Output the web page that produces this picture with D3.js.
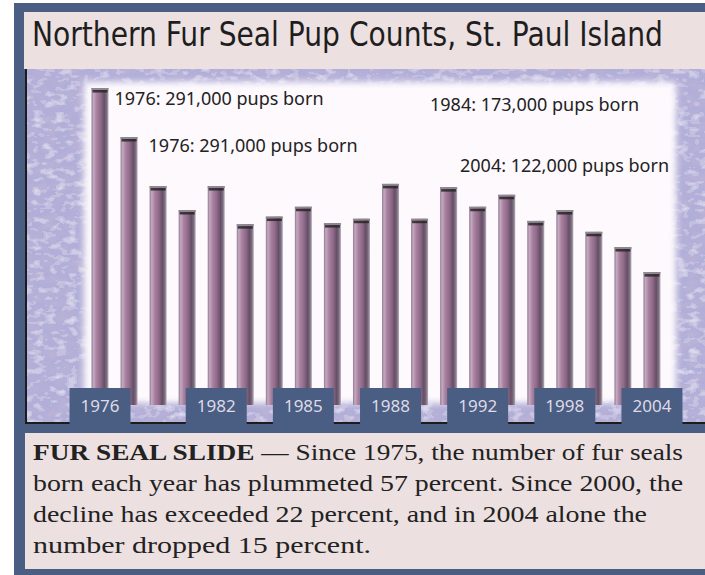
<!DOCTYPE html>
<html><head><meta charset="utf-8">
<script src="https://cdn.jsdelivr.net/npm/d3@7"></script>
<style>html,body{margin:0;padding:0;background:#fff;}svg{display:block;}</style>
</head><body>
<svg id="chart" width="705" height="575"></svg>
<script>
// ---- data ----
const categories = ["1976","1977","1979","1980","1982","1983","1984","1985","1986","1987","1988","1990","1991","1992","1994","1996","1998","2000","2002","2004"];
const pups = [291000,246000,201000,179000,201000,166000,173000,182000,167000,171000,203000,171000,200000,182000,193000,169000,179000,159000,145000,122000];
const tickLabels = ["1976","1982","1985","1988","1992","1998","2004"];
const titleText = "Northern Fur Seal Pup Counts, St. Paul Island";
const annotations = ["1976: 291,000 pups born","1976: 291,000 pups born","1984: 173,000 pups born","2004: 122,000 pups born"];
const captionBold = "FUR SEAL SLIDE";
const captionLines = [
  " \u2014 Since 1975, the number of fur seals",
  "born each year has plummeted 57 percent. Since 2000, the",
  "decline has exceeded 22 percent, and in 2004 alone the",
  "number dropped 15 percent."
];

const svg = d3.select("#chart");
const BLUE = "#4a5d82", PINK = "#ece0e0";
const defs = svg.append("defs");

// texture filters
const tf = defs.append("filter").attr("id","tex").attr("x",0).attr("y",0).attr("width",1).attr("height",1);
tf.append("feTurbulence").attr("type","fractalNoise").attr("baseFrequency","0.09 0.16").attr("numOctaves",2).attr("seed",4).attr("result","n");
tf.append("feColorMatrix").attr("in","n").attr("type","matrix")
  .attr("values","0 0 0 0 1  0 0 0 0 1  0 0 0 0 1  2.2 0 0 0 -0.95").attr("result","w");
tf.append("feComponentTransfer").attr("in","w").append("feFuncA").attr("type","discrete").attr("tableValues","0 0.2 0.35 0.5");
const tf2 = defs.append("filter").attr("id","tex2").attr("x",0).attr("y",0).attr("width",1).attr("height",1);
tf2.append("feTurbulence").attr("type","fractalNoise").attr("baseFrequency","0.07 0.12").attr("numOctaves",2).attr("seed",9).attr("result","n");
tf2.append("feColorMatrix").attr("in","n").attr("type","matrix")
  .attr("values","0 0 0 0 0.5  0 0 0 0 0.45  0 0 0 0 0.68  0 2.4 0 0 -0.95");
const blur = defs.append("filter").attr("id","glow").attr("x","-10%").attr("y","-10%").attr("width","120%").attr("height","120%");
blur.append("feGaussianBlur").attr("stdDeviation",3);

// bar gradient
const g = defs.append("linearGradient").attr("id","barGrad").attr("x1","0").attr("x2","1").attr("y1","0").attr("y2","0");
[["0%","#8c7c90"],["12%","#c5a8c2"],["30%","#a9819f"],["55%","#8e6988"],["75%","#654f66"],["88%","#7b6b7e"],["100%","#b7aebb"]]
  .forEach(([o,c])=>g.append("stop").attr("offset",o).attr("stop-color",c));

// outer frame
svg.append("rect").attr("x",14).attr("y",3).attr("width",691).attr("height",572).attr("fill",BLUE);
// title panel
svg.append("rect").attr("x",24).attr("y",12).attr("width",681).attr("height",57).attr("fill",PINK);
// chart textured area
svg.append("rect").attr("x",25).attr("y",69).attr("width",680).attr("height",354).attr("fill","#b1aed8");
svg.append("rect").attr("x",25).attr("y",69).attr("width",680).attr("height",354).attr("fill","#fff").attr("filter","url(#tex2)");
svg.append("rect").attr("x",25).attr("y",69).attr("width",680).attr("height",354).attr("fill","#fff").attr("filter","url(#tex)");
// white panel
svg.append("rect").attr("x",84).attr("y",82).attr("width",592).attr("height",321).attr("fill","#fdf9fd").attr("filter","url(#glow)");
// black edges
svg.append("rect").attr("x",25).attr("y",69).attr("width",2).attr("height",355).attr("fill","#1c1c1c");
svg.append("rect").attr("x",25).attr("y",422).attr("width",680).attr("height",2).attr("fill","#1c1c1c");
// bottom band + caption
svg.append("rect").attr("x",14).attr("y",424).attr("width",691).attr("height",9).attr("fill",BLUE);
svg.append("rect").attr("x",25).attr("y",433).attr("width",680).attr("height",136).attr("fill",PINK);

// scales
const x = d3.scaleBand().domain(categories).range([77,675]).paddingInner(0.415).paddingOuter(0.5);
const y = d3.scaleLinear().domain([0,291000]).range([405,88]);
const bw = x.bandwidth();

const bars = svg.append("g").selectAll("g").data(categories).join("g");
bars.append("rect").attr("x",d=>x(d)).attr("y",(d,i)=>y(pups[i])).attr("width",bw)
  .attr("height",(d,i)=>y(0)-y(pups[i])).attr("fill","url(#barGrad)");
bars.append("rect").attr("x",d=>x(d)).attr("y",(d,i)=>y(pups[i])).attr("width",bw).attr("height",2).attr("fill","#8e8890");
bars.append("rect").attr("x",d=>x(d)+1).attr("y",(d,i)=>y(pups[i])+2).attr("width",bw-2).attr("height",2.5).attr("fill","#2a2629").attr("opacity",0.85);

// axis with boxed labels
const axisG = svg.append("g").attr("transform","translate(0,405)")
  .call(d3.axisBottom(x).tickValues(tickLabels).tickSize(0).tickPadding(0));
axisG.select(".domain").remove();
axisG.selectAll(".tick").each(function(){
  const t = d3.select(this);
  t.insert("rect","text").attr("x",-30.5).attr("y",-17).attr("width",61).attr("height",36).attr("fill",BLUE);
  t.select("text").attr("y",7).attr("dy",0).attr("fill","#dedae6")
    .attr("font-family","'Noto Sans','Open Sans',sans-serif").attr("font-size",17);
});

// annotations
const annPos = [[x(categories[0])+bw+6,105],[x(categories[1])+bw+11,152],[430,111],[460,172]];
svg.append("g").selectAll("text").data(annotations).join("text")
  .attr("x",(d,i)=>annPos[i][0]).attr("y",(d,i)=>annPos[i][1])
  .attr("font-family","'Noto Sans','Open Sans',sans-serif").attr("font-size",18).attr("fill","#222")
  .text(d=>d);

// title
svg.append("text").attr("x",32).attr("y",45.5).attr("font-family","'Liberation Sans Narrow','DejaVu Sans Condensed','Liberation Sans',sans-serif")
  .attr("font-size",33).attr("fill","#1e1e1e").attr("textLength",631).attr("lengthAdjust","spacingAndGlyphs").text(titleText);

// caption
const cap = svg.append("g").attr("font-family","'Liberation Serif','Times New Roman',serif").attr("font-size",24).attr("fill","#222");
const base = [460,491,522,553];
const capWidths = [650,650,614,338];
captionLines.forEach((ln,i)=>{
  const t = cap.append("text").attr("x",33).attr("y",base[i]);
  if(i===0){ t.append("tspan").attr("font-weight","bold").text(captionBold); }
  t.append("tspan").text(ln);
  t.attr("textLength",capWidths[i]).attr("lengthAdjust","spacingAndGlyphs");
});
</script>
</body></html>
